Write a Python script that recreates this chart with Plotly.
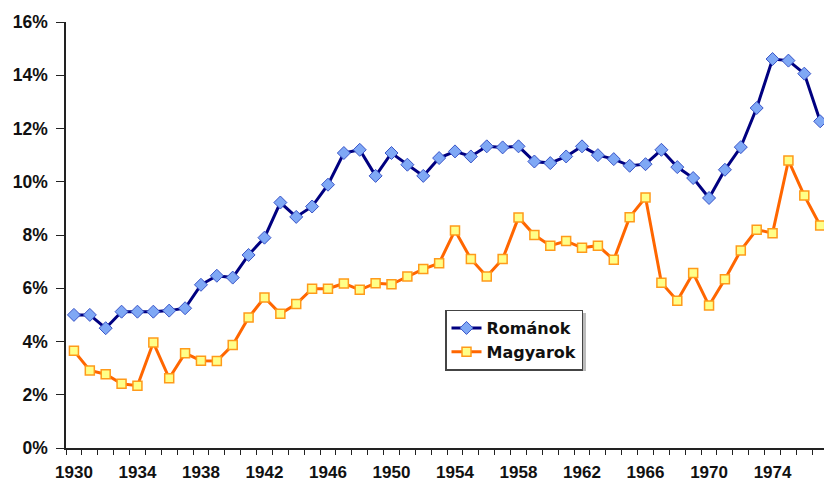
import plotly.graph_objects as go

years = list(range(1930, 1978))
romanok = [5.0, 5.0, 4.5, 5.12, 5.12, 5.12, 5.16, 5.25, 6.13, 6.47,
           6.4, 7.25, 7.9, 9.22, 8.68, 9.07, 9.89, 11.08, 11.2, 10.22,
           11.08, 10.64, 10.22, 10.89, 11.14, 10.95, 11.33, 11.29, 11.33, 10.76,
           10.7, 10.95, 11.33, 11.0, 10.85, 10.6, 10.66, 11.2, 10.55, 10.14,
           9.39, 10.45, 11.3, 12.77, 14.61, 14.55, 14.06, 12.27]
magyarok = [3.65, 2.91, 2.77, 2.41, 2.34, 3.96, 2.62, 3.56, 3.28, 3.27,
            3.87, 4.9, 5.65, 5.04, 5.41, 5.98, 5.98, 6.18, 5.94, 6.19,
            6.15, 6.44, 6.72, 6.94, 8.17, 7.1, 6.44, 7.1, 8.66, 8.0,
            7.6, 7.77, 7.52, 7.6, 7.07, 8.67, 9.41, 6.21, 5.53, 6.57,
            5.35, 6.34, 7.42, 8.2, 8.07, 10.8, 9.48, 8.36]
xtick_vals = list(range(1930, 1977, 4))
ytick_vals = list(range(0, 17, 2))

FONT = "Arial, Liberation Sans, sans-serif"
LEGEND_FONT = "DejaVu Sans, Arial, sans-serif"

fig = go.Figure()
fig.add_trace(go.Scatter(
    x=years, y=romanok, name="Románok", mode="lines+markers",
    line=dict(color="#000080", width=3),
    marker=dict(symbol="diamond", size=10, color="#7FA8F5",
                line=dict(color="#3A55C8", width=1)),
    cliponaxis=False,
))
fig.add_trace(go.Scatter(
    x=years, y=magyarok, name="Magyarok", mode="lines+markers",
    line=dict(color="#FF6600", width=3),
    marker=dict(symbol="square", size=9, color="#FFFF88",
                line=dict(color="#FF9A1A", width=1.5)),
    cliponaxis=False,
))

# soft shadow behind the legend box
fig.add_shape(type="rect", xref="paper", yref="paper",
              x0=0.505, x1=0.686, y0=0.181, y1=0.317,
              fillcolor="#BBBBBB", line=dict(width=0), layer="above")

fig.update_layout(
    width=824, height=482,
    margin=dict(l=66, r=0, t=22, b=34, autoexpand=False),
    paper_bgcolor="white", plot_bgcolor="white",
    font=dict(family=FONT, size=14, color="#111"),
    showlegend=True,
    legend=dict(
        x=0.5, y=0.325, xanchor="left", yanchor="top",
        bgcolor="white", bordercolor="#444", borderwidth=1.5,
        font=dict(family=LEGEND_FONT, size=16, color="#111", weight="bold"),
        itemwidth=30, tracegroupgap=0,
    ),
)
fig.update_xaxes(
    range=[1929.5, 1977.24], automargin=False,
    tickvals=xtick_vals, ticktext=[str(v) for v in xtick_vals],
    ticks="", showgrid=False, zeroline=False,
    showline=True, linecolor="#222", linewidth=1.5,
    ticklabelstandoff=8,
    tickfont=dict(family=FONT, size=17, color="#111", weight="bold"),
    minor=dict(tick0=1929.5, dtick=1, ticks="outside", ticklen=5,
               tickcolor="#222", tickwidth=1.2, showgrid=False),
)
fig.update_yaxes(
    range=[0, 16], automargin=False,
    tickvals=ytick_vals, ticktext=[f"{v}%" for v in ytick_vals],
    ticks="outside", ticklen=8, tickcolor="#222", tickwidth=1.2,
    ticklabelstandoff=5,
    showgrid=False, zeroline=False,
    showline=True, linecolor="#222", linewidth=1.5,
    tickfont=dict(family=FONT, size=17.5, color="#111", weight="bold"),
)

fig.write_html("out.html",
               config={"displayModeBar": False},
               post_script="document.body.style.margin='0';document.body.style.overflow='hidden';")
